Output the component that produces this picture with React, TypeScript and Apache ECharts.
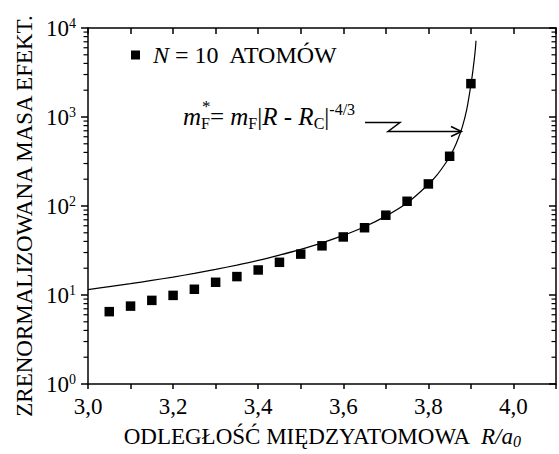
import React, { useEffect, useRef } from 'react';
import * as echarts from 'echarts';

// Measured data points (R/a0, normalized effective mass)
const pointR = [3.05, 3.10, 3.15, 3.20, 3.25, 3.30, 3.35, 3.40, 3.45, 3.50, 3.55, 3.60, 3.65, 3.70, 3.75, 3.80, 3.85, 3.90];
const pointM = [6.5, 7.5, 8.7, 9.9, 11.6, 13.9, 16.1, 19.1, 23.3, 28.8, 35.7, 44.9, 57, 78.8, 113, 177, 362, 2370];

// Fitted curve m* = mF |R - Rc|^(-4/3)
const curveR = [3.00, 3.05, 3.10, 3.15, 3.20, 3.25, 3.30, 3.35, 3.40, 3.45, 3.50, 3.55, 3.60, 3.65, 3.70, 3.75, 3.80, 3.82, 3.84, 3.85, 3.86, 3.87, 3.88, 3.89, 3.90, 3.905, 3.91, 3.912];
const curveM = [11.5, 12.4, 13.4, 14.6, 15.9, 17.5, 19.4, 21.7, 24.5, 28.1, 32.6, 38.5, 46.7, 58.5, 77, 108, 175, 222, 300, 360, 440, 570, 780, 1200, 2300, 3400, 5500, 7200];

const legendLabel = 'N = 10  ATOMÓW';
const xAxisTitle = 'ODLEGŁOŚĆ MIĘDZYATOMOWA  ';
const yAxisTitle = 'ZRENORMALIZOWANA MASA EFEKT.';
const decades = [1, 10, 100, 1000];
const minorMultipliers = [2, 3, 4, 5, 6, 7, 8, 9];

const FONT = 'Liberation Serif, Times New Roman, serif';

export default function App() {
  const ref = useRef<HTMLDivElement>(null);

  useEffect(() => {
    if (!ref.current) return;
    const chart = echarts.init(ref.current, undefined, { renderer: 'svg' });

    const minorTicks: number[][] = [];
    decades.forEach((d) => minorMultipliers.forEach((m) => minorTicks.push([3.0, d * m])));

    const axisLineStyle = { color: '#000', width: 1.5 };

    const option: any = {
      animation: false,
      backgroundColor: '#fff',
      textStyle: { fontFamily: FONT, color: '#000' },
      grid: { left: 88, top: 28, width: 469, height: 360, containLabel: false },
      legend: {
        data: [{ name: legendLabel, icon: 'rect' }],
        left: 131,
        top: 43,
        padding: 0,
        itemWidth: 9,
        itemHeight: 9,
        selectedMode: false,
        formatter: (name: string) => name.replace(/^N/, '{i|N}'),
        textStyle: {
          fontFamily: FONT,
          fontSize: 24,
          color: '#000',
          padding: [0, 0, 0, 8],
          rich: { i: { fontFamily: FONT, fontSize: 24, fontStyle: 'italic', color: '#000' } },
        },
      },
      xAxis: [
        {
          type: 'value',
          min: 3.0,
          max: 4.1,
          interval: 0.1,
          position: 'bottom',
          axisLine: { lineStyle: axisLineStyle },
          axisTick: { inside: false, length: 5, lineStyle: { color: '#000', width: 1.5 } },
          splitLine: { show: false },
          axisLabel: {
            margin: 11,
            fontSize: 23,
            fontFamily: FONT,
            color: '#000',
            formatter: (v: number) => {
              const k = Math.round(v * 10);
              return k % 2 === 0 && k <= 40 ? (k / 10).toFixed(1).replace('.', ',') : '';
            },
          },
          name: `{t|${xAxisTitle}}{i|R/a}{s|0}`,
          nameLocation: 'middle',
          nameGap: 39,
          nameTextStyle: {
            fontFamily: FONT,
            fontSize: 23,
            color: '#000',
            rich: {
              t: { fontFamily: FONT, fontSize: 23, color: '#000', lineHeight: 26, verticalAlign: 'middle' },
              i: { fontFamily: FONT, fontSize: 23, fontStyle: 'italic', color: '#000', lineHeight: 26, verticalAlign: 'middle' },
              s: { fontFamily: FONT, fontSize: 16, fontStyle: 'italic', color: '#000', lineHeight: 18, verticalAlign: 'bottom' },
            },
          },
        },
        {
          type: 'value',
          min: 3.0,
          max: 4.1,
          interval: 0.1,
          position: 'top',
          axisLine: { lineStyle: axisLineStyle },
          axisTick: { inside: true, length: 6, lineStyle: { color: '#000', width: 1.5 } },
          axisLabel: { show: false },
          splitLine: { show: false },
        },
      ],
      yAxis: [
        {
          type: 'log',
          logBase: 10,
          min: 1,
          max: 10000,
          position: 'left',
          axisLine: { lineStyle: axisLineStyle },
          axisTick: { inside: false, length: 7, lineStyle: { color: '#000', width: 1.5 } },
          splitLine: { show: false },
          minorTick: { show: false },
          axisLabel: {
            margin: 12,
            formatter: (v: number) => `{b|10}{s|${Math.round(Math.log10(v))}}`,
            rich: {
              b: { fontFamily: FONT, fontSize: 23, color: '#000', lineHeight: 24, verticalAlign: 'middle' },
              s: { fontFamily: FONT, fontSize: 14, color: '#000', lineHeight: 13, verticalAlign: 'top' },
            },
          },
        },
        {
          type: 'log',
          logBase: 10,
          min: 1,
          max: 10000,
          position: 'right',
          axisLine: { lineStyle: axisLineStyle },
          axisTick: { inside: true, length: 7, lineStyle: { color: '#000', width: 1.5 } },
          axisLabel: { show: false },
          splitLine: { show: false },
        },
      ],
      series: [
        {
          type: 'custom',
          name: 'minorTicks',
          xAxisIndex: 0,
          yAxisIndex: 0,
          silent: true,
          clip: false,
          z: 5,
          data: minorTicks,
          renderItem: (_params: any, api: any) => {
            const y = api.coord([3.0, api.value(1)])[1];
            const xl = api.coord([3.0, 1])[0];
            const xr = api.coord([4.1, 1])[0];
            return {
              type: 'group',
              children: [
                { type: 'line', shape: { x1: xl - 4.5, y1: y, x2: xl, y2: y }, style: { stroke: '#000', lineWidth: 1.2 } },
                { type: 'line', shape: { x1: xr - 4.5, y1: y, x2: xr, y2: y }, style: { stroke: '#000', lineWidth: 1.2 } },
              ],
            };
          },
        },
        {
          type: 'line',
          name: 'fit',
          xAxisIndex: 0,
          yAxisIndex: 0,
          data: curveR.map((r, i) => [r, curveM[i]]),
          showSymbol: false,
          symbol: 'none',
          smooth: 0.3,
          lineStyle: { color: '#000', width: 1.2 },
          z: 3,
        },
        {
          type: 'scatter',
          name: legendLabel,
          xAxisIndex: 0,
          yAxisIndex: 0,
          data: pointR.map((r, i) => [r, pointM[i]]),
          symbol: 'rect',
          symbolSize: 9.5,
          itemStyle: { color: '#000', opacity: 1 },
          z: 4,
        },
      ],
      graphic: [
        {
          type: 'text',
          x: 24,
          y: 216,
          rotation: Math.PI / 2,
          style: { text: yAxisTitle, fontFamily: FONT, fontSize: 23, fill: '#000', align: 'center', verticalAlign: 'middle' },
        },
        {
          type: 'text',
          x: 183,
          y: 131,
          style: {
            text: '{i|m}{f|F}{n|= }{i|m}{f|F}{n||}{i|R}{n| - }{i|R}{f|C}{n||}{s|-4/3}',
            verticalAlign: 'bottom',
            align: 'left',
            rich: {
              i: { fontFamily: FONT, fontSize: 25, fontStyle: 'italic', fill: '#000', lineHeight: 30, verticalAlign: 'middle' },
              n: { fontFamily: FONT, fontSize: 25, fill: '#000', lineHeight: 30, verticalAlign: 'middle' },
              f: { fontFamily: FONT, fontSize: 16, fill: '#000', lineHeight: 18, verticalAlign: 'bottom' },
              s: { fontFamily: FONT, fontSize: 16, fill: '#000', lineHeight: 17, verticalAlign: 'top' },
            },
          },
        },
        {
          type: 'text',
          x: 202,
          y: 98,
          style: { text: '*', fontFamily: FONT, fontSize: 17, fill: '#000', align: 'left', verticalAlign: 'top' },
        },
        {
          type: 'polyline',
          shape: { points: [[365, 122.5], [400, 122.5], [388, 131.5], [461, 131.5]] },
          style: { stroke: '#000', lineWidth: 1.5, fill: 'none' },
        },
        {
          type: 'polyline',
          shape: { points: [[451, 126.5], [461.5, 131.5], [451, 136.5]] },
          style: { stroke: '#000', lineWidth: 1.5, fill: 'none' },
        },
      ],
    };

    chart.setOption(option);
    return () => chart.dispose();
  }, []);

  return (
    <div
      ref={ref}
      style={{ position: 'fixed', left: 0, top: 0, width: 559, height: 454, background: '#fff' }}
    />
  );
}
